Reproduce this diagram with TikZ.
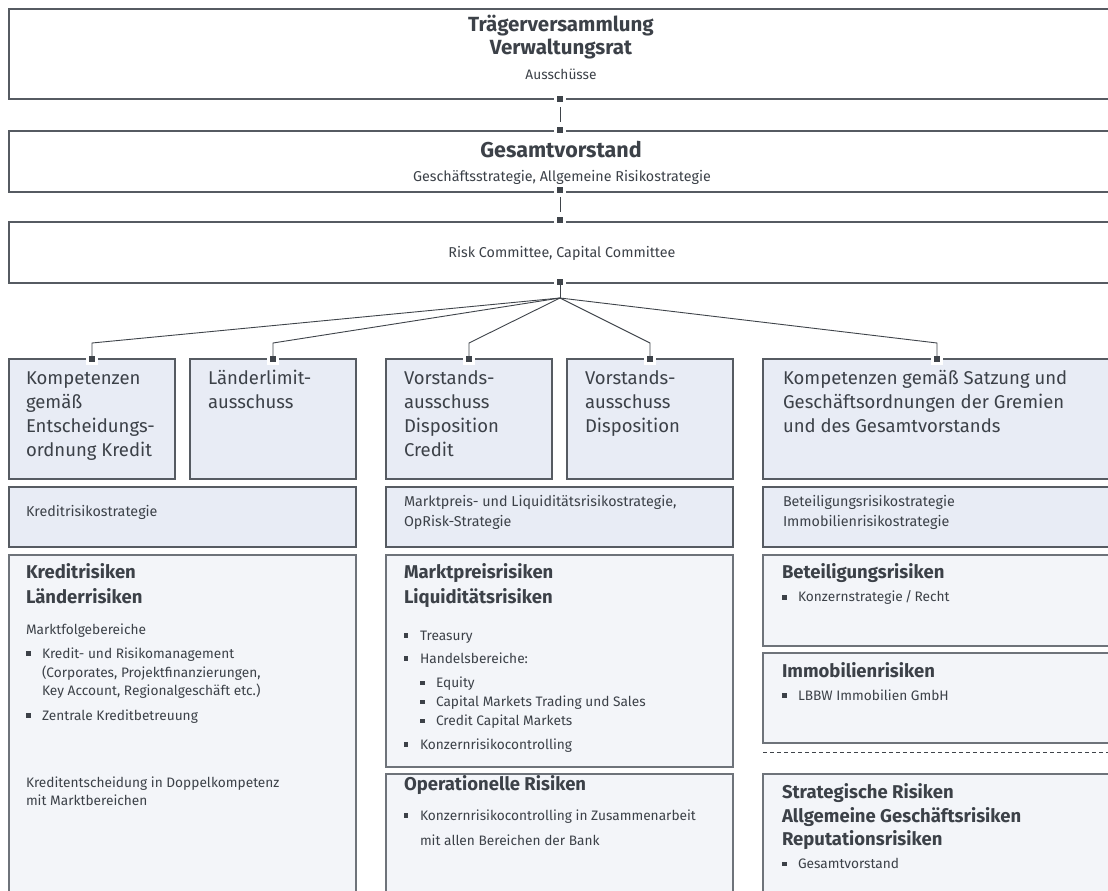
\documentclass[tikz,border=0pt]{standalone}
\usepackage{fontspec}
\setmainfont{Fira Sans}
\usetikzlibrary{calc}
\definecolor{ink}{HTML}{3C4148}
\definecolor{edge}{HTML}{565B62}
\definecolor{edgeB}{HTML}{6E737A}
\definecolor{fillA}{HTML}{E8ECF5}
\definecolor{fillB}{HTML}{F3F5F9}
\definecolor{wire}{HTML}{3F444A}
\newcommand\fsTop{\fontsize{20.5}{24}\selectfont\bfseries}
\newcommand\fsHuge{\fontsize{21.5}{24}\selectfont\bfseries}
\newcommand\fsBig{\fontsize{18.5}{24}\selectfont}
\newcommand\fsHead{\fontsize{18.5}{24}\selectfont\bfseries}
\newcommand\fsMid{\fontsize{14.3}{20}\selectfont}
\newcommand\fsBul{\fontsize{13.7}{18}\selectfont}
\tikzset{
  box/.style={draw=edge, line width=1.1pt, rectangle, anchor=north west, inner sep=0pt, outer sep=0pt},
  lowbox/.style={box, draw=edgeB, fill=fillB},
  midbox/.style={box, fill=fillA},
  topbox/.style={box, fill=white},
  port/.style={rectangle, fill=wire, minimum size=6pt, inner sep=0pt, outer sep=0pt,
     preaction={draw=white, line width=6pt}},
  wireline/.style={draw=wire, line width=0.9pt},
  txt/.style={anchor=base west, inner sep=0pt, outer sep=0pt, text=ink},
  ctxt/.style={anchor=base, inner sep=0pt, outer sep=0pt, text=ink},
  blt/.style={rectangle, fill=ink, minimum size=4.5pt, inner sep=0pt, outer sep=0pt},
}
\begin{document}
\begin{tikzpicture}[x=1pt,y=-1pt]
\useasboundingbox (0,0) rectangle (1108,891);
\clip (0,0) rectangle (1108,891);
\fill[white] (0,0) rectangle (1108,891);

% ---------- top boxes ----------
\node[topbox, minimum width=1115pt, minimum height=90pt] (tv) at (9,9) {};
\node[topbox, minimum width=1115pt, minimum height=61pt] (gv) at (9,131) {};
\node[topbox, minimum width=1115pt, minimum height=61pt] (rc) at (9,222) {};

\node[ctxt, font=\fsTop] (tvA) at (561,32) {Trägerversammlung};
\node[ctxt, font=\fsTop] (tvB) at (561,55) {Verwaltungsrat};
\node[ctxt, font=\fsBul] (tvC) at (561,80) {Ausschüsse};
\node[ctxt, font=\fsHuge] (gvA) at (561,157) {Gesamtvorstand};
\node[ctxt, font=\fsMid] (gvB) at (562,181) {Geschäftsstrategie, Allgemeine Risikostrategie};
\node[ctxt, font=\fsMid] (rcA) at (562,257) {Risk Committee, Capital Committee};

% ---------- second row ----------
\node[midbox, minimum width=166pt, minimum height=120pt] (kA) at (9,359) {};
\node[midbox, minimum width=166pt, minimum height=120pt] (kB) at (190,359) {};
\node[midbox, minimum width=166pt, minimum height=120pt] (kC) at (386,359) {};
\node[midbox, minimum width=166pt, minimum height=120pt] (kD) at (567,359) {};
\node[midbox, minimum width=360pt, minimum height=120pt] (kE) at (763,359) {};

\node[txt, font=\fsBig] (kA1) at (26,384) {Kompetenzen};
\node[txt, font=\fsBig] (kA2) at (26,408) {gemäß};
\node[txt, font=\fsBig] (kA3) at (26,432) {Entscheidungs-};
\node[txt, font=\fsBig] (kA4) at (26,456) {ordnung Kredit};
\node[txt, font=\fsBig] (kB1) at (208,384) {Länderlimit-};
\node[txt, font=\fsBig] (kB2) at (208,408) {ausschuss};
\node[txt, font=\fsBig] (kC1) at (404,384) {Vorstands-};
\node[txt, font=\fsBig] (kC2) at (404,408) {ausschuss};
\node[txt, font=\fsBig] (kC3) at (404,432) {Disposition};
\node[txt, font=\fsBig] (kC4) at (404,456) {Credit};
\node[txt, font=\fsBig] (kD1) at (585,384) {Vorstands-};
\node[txt, font=\fsBig] (kD2) at (585,408) {ausschuss};
\node[txt, font=\fsBig] (kD3) at (585,432) {Disposition};
\node[txt, font=\fsBig] (kE1) at (783,384) {Kompetenzen gemäß Satzung und};
\node[txt, font=\fsBig] (kE2) at (783,408) {Geschäftsordnungen der Gremien};
\node[txt, font=\fsBig] (kE3) at (783,432) {und des Gesamtvorstands};

% ---------- strategy row ----------
\node[midbox, minimum width=347pt, minimum height=60pt] (sA) at (9,487) {};
\node[midbox, minimum width=347pt, minimum height=60pt] (sB) at (386,487) {};
\node[midbox, minimum width=360pt, minimum height=60pt] (sC) at (763,487) {};
\node[txt, font=\fsMid] (sA1) at (26,516) {Kreditrisikostrategie};
\node[txt, font=\fsMid] (sB1) at (404,506) {Marktpreis- und Liquiditätsrisikostrategie,};
\node[txt, font=\fsMid] (sB2) at (404,526.5) {OpRisk-Strategie};
\node[txt, font=\fsMid] (sC1) at (783,506) {Beteiligungsrisikostrategie};
\node[txt, font=\fsMid] (sC2) at (783,526.5) {Immobilienrisikostrategie};

% ---------- risk row ----------
\node[lowbox, minimum width=347pt, minimum height=350pt] (rA) at (9,555) {};
\node[lowbox, minimum width=347pt, minimum height=212pt] (rB) at (386,555) {};
\node[lowbox, minimum width=347pt, minimum height=130pt] (rC) at (386,774) {};
\node[lowbox, minimum width=360pt, minimum height=91pt] (rD) at (763,555) {};
\node[lowbox, minimum width=360pt, minimum height=90pt] (rE) at (763,653) {};
\node[lowbox, minimum width=360pt, minimum height=130pt] (rF) at (763,774) {};
\coordinate (dl) at (763,752);
\coordinate (dr) at (1110,752);
\draw[wire, line width=1pt, dash pattern=on 4pt off 3pt] (dl) -- (dr);

% left risk box
\node[txt, font=\fsHead] (rA1) at (26,578.5) {Kreditrisiken};
\node[txt, font=\fsHead] (rA2) at (26,603) {Länderrisiken};
\node[txt, font=\fsBul] (rA3) at (26,634) {Marktfolgebereiche};
\node[blt] (bA1) at (28.5,653.5) {};
\node[txt, font=\fsBul] (rA4) at (42,658) {Kredit- und Risikomanagement};
\node[txt, font=\fsBul] (rA5) at (42,677) {(Corporates, Projektfinanzierungen,};
\node[txt, font=\fsBul] (rA6) at (42,695.5) {Key Account, Regionalgeschäft etc.)};
\node[blt] (bA2) at (28.5,715.5) {};
\node[txt, font=\fsBul] (rA7) at (42,720) {Zentrale Kreditbetreuung};
\node[txt, font=\fsBul] (rA8) at (26,787.5) {Kreditentscheidung in Doppelkompetenz};
\node[txt, font=\fsBul] (rA9) at (26,805.5) {mit Marktbereichen};

% middle risk boxes
\node[txt, font=\fsHead] (rB1) at (404,578.5) {Marktpreisrisiken};
\node[txt, font=\fsHead] (rB2) at (404,603) {Liquiditätsrisiken};
\node[blt] (bB1) at (406,635.5) {};
\node[txt, font=\fsBul] (rB3) at (420,640) {Treasury};
\node[blt] (bB2) at (406,658.5) {};
\node[txt, font=\fsBul] (rB4) at (420,663) {Handelsbereiche:};
\node[blt] (bB3) at (422.5,683) {};
\node[txt, font=\fsBul] (rB5) at (436,687.5) {Equity};
\node[blt] (bB4) at (422.5,702) {};
\node[txt, font=\fsBul] (rB6) at (436,706.5) {Capital Markets Trading und Sales};
\node[blt] (bB5) at (422.5,721) {};
\node[txt, font=\fsBul] (rB7) at (436,725.5) {Credit Capital Markets};
\node[blt] (bB6) at (406,744.5) {};
\node[txt, font=\fsBul] (rB8) at (420,749) {Konzernrisikocontrolling};

\node[txt, font=\fsHead] (rC1) at (404,790) {Operationelle Risiken};
\node[blt] (bC1) at (406,815.5) {};
\node[txt, font=\fsBul] (rC2) at (420,820) {Konzernrisikocontrolling in Zusammenarbeit};
\node[txt, font=\fsBul] (rC3) at (420,845) {mit allen Bereichen der Bank};

% right risk boxes
\node[txt, font=\fsHead] (rD1) at (782,578.5) {Beteiligungsrisiken};
\node[blt] (bD1) at (784.5,597.5) {};
\node[txt, font=\fsBul] (rD2) at (798,601.5) {Konzernstrategie\,/\,Recht};
\node[txt, font=\fsHead] (rE1) at (782,677) {Immobilienrisiken};
\node[blt] (bE1) at (784.5,695.5) {};
\node[txt, font=\fsBul] (rE2) at (798,700) {LBBW Immobilien GmbH};
\node[txt, font=\fsHead] (rF1) at (782,798.5) {Strategische Risiken};
\node[txt, font=\fsHead] (rF2) at (782,822) {Allgemeine Geschäftsrisiken};
\node[txt, font=\fsHead] (rF3) at (782,845.5) {Reputationsrisiken};
\node[blt] (bF1) at (784.5,864) {};
\node[txt, font=\fsBul] (rF4) at (798,868) {Gesamtvorstand};

% ---------- ports ----------
\node[port] (p1) at (560,99) {};
\node[port] (p2) at (560,129.5) {};
\node[port] (p3) at (560,190) {};
\node[port] (p4) at (560,219.5) {};
\node[port] (p5) at (560,282) {};
\node[port] (q1) at (92,359) {};
\node[port] (q2) at (273,359) {};
\node[port] (q3) at (469,359) {};
\node[port] (q4) at (650,359) {};
\node[port] (q5) at (937,359) {};

% ---------- connectors ----------
\draw[wireline] ($(p1.south)+(0,5)$) -- ($(p2.north)+(0,-5)$);
\draw[wireline] ($(p3.south)+(0,4)$) -- ($(p4.north)+(0,-5)$);
\coordinate (fan) at (560,298);
\coordinate (c1) at (92,343);
\coordinate (c2) at (273,343);
\coordinate (c3) at (469,343);
\coordinate (c4) at (650,343);
\coordinate (c5) at (937,343);
\draw[wireline] (p5.south) -- (fan);
\draw[wireline] (fan) -- (c1) -- (q1.north);
\draw[wireline] (fan) -- (c2) -- (q2.north);
\draw[wireline] (fan) -- (c3) -- (q3.north);
\draw[wireline] (fan) -- (c4) -- (q4.north);
\draw[wireline] (fan) -- (c5) -- (q5.north);
\end{tikzpicture}
\end{document}
